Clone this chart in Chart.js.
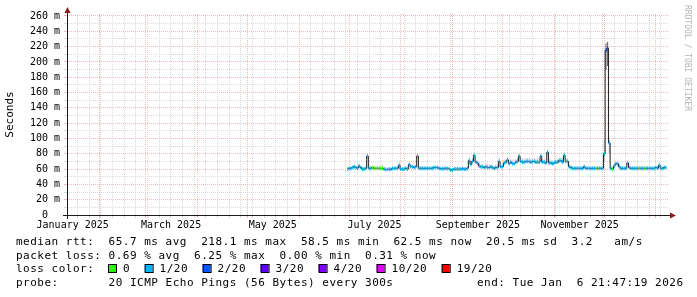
<!DOCTYPE html>
<html>
<head>
<meta charset="utf-8">
<title>SmokePing - last 360 days</title>
<script src="https://cdn.jsdelivr.net/npm/chart.js@4.4.1/dist/chart.umd.min.js"></script>
<style>
  html, body { margin: 0; padding: 0; background: #fff; }
  #wrap { width: 697px; height: 297px; }
</style>
</head>
<body>
<div id="wrap"><canvas id="graph" width="697" height="297"></canvas></div>
<script>
// day numbers count from 1 Jan 2025 (day 0); one value per day
var firstDay = 180;

// median rtt per day, ms
var rtt = [
  60, 61, 61, 62, 63, 62, 61, 64, 62, 60,
  60, 61, 77, 61, 61, 62, 61, 61, 61, 61,
  61, 61, 60, 59.5, 59.5, 60, 59.5, 61, 61, 61,
  61, 65, 60, 60, 60, 61, 60, 66, 63, 63,
  62, 63, 77, 61, 61, 61, 61, 61, 61, 61,
  61, 61, 62, 62, 62, 61, 60.5, 60.5, 60.5, 61,
  60.5, 60.5, 58.5, 59, 60, 60, 60, 60, 60, 60.5,
  60, 60, 61, 71, 66, 70, 78, 69, 68, 64,
  63, 63, 62, 63, 62, 62, 63, 62, 61, 62,
  62, 70, 63, 63, 68, 69, 72, 67, 69, 67,
  67, 69, 70, 77, 70, 69, 69, 70, 70, 70,
  69, 70, 70, 69, 69, 69, 77, 69, 69, 68,
  82, 68, 68, 67, 68, 69, 69, 71, 71, 69,
  78, 70, 70, 63, 62, 61, 61, 61, 61, 61,
  61, 61, 63, 61, 61, 61, 61, 61, 61, 61,
  61, 61, 61, 61, 80, 215, 218, 94, 61, 60,
  64, 67, 67, 63, 61, 61, 61, 61, 68, 62,
  61, 61, 61, 61, 61, 61, 61, 61, 61, 61,
  61, 61, 61, 61, 61, 62, 61, 65, 61, 61,
  62, 62
];

// smoke: slowest ping of the day, ms
var pingMax = [
  62, 63, 63, 64, 66, 65, 64, 67, 64, 62,
  62, 63, 80, 63, 63, 64, 63, 63, 63, 63,
  66, 66, 63, 62, 61, 62, 62, 63, 63, 63,
  63, 68, 62, 62, 62, 63, 62, 69, 66, 65,
  64, 65, 80, 63, 63, 63, 63, 63, 63, 63,
  63, 63, 64, 64, 64, 63, 62, 62, 63, 63,
  62, 62, 61, 61, 62, 62, 62, 62, 62, 63,
  62, 62, 64, 75, 70, 73, 81, 73, 71, 68,
  67, 66, 65, 68, 67, 66, 66, 65, 64, 65,
  66, 74, 67, 67, 72, 73, 76, 71, 73, 72,
  72, 73, 74, 80, 74, 74, 73, 74, 74, 74,
  73, 74, 74, 73, 74, 74, 80, 73, 73, 72,
  86, 73, 72, 71, 72, 73, 73, 75, 75, 74,
  82, 74, 73, 67, 65, 63, 63, 63, 63, 63,
  63, 63, 66, 63, 63, 63, 63, 63, 63, 63,
  63, 63, 63, 63, 98, 224, 226, 98, 64, 62,
  68, 72, 70, 67, 64, 63, 63, 63, 71, 66,
  63, 63, 63, 63, 64, 64, 64, 63, 63, 63,
  63, 63, 63, 63, 63, 64, 63, 68, 63, 63,
  64, 64
];

// smoke: fastest ping of the day, ms
var pingMin = [
  59, 60, 60, 61, 61, 61, 60, 62, 61, 59,
  59, 60, 74, 60, 60, 61, 60, 60, 60, 60,
  60, 60, 59, 58, 58, 59, 58, 60, 60, 60,
  60, 63, 59, 59, 59, 60, 59, 64, 62, 62,
  61, 62, 75, 60, 60, 60, 60, 60, 60, 60,
  60, 60, 61, 61, 61, 60, 59, 59, 59, 60,
  59, 59, 57, 58, 59, 59, 59, 59, 59, 59,
  59, 59, 60, 68, 64, 68, 76, 67, 66, 62,
  61, 61, 60, 61, 60, 60, 61, 60, 60, 60,
  60, 68, 61, 61, 66, 67, 70, 65, 67, 65,
  65, 67, 68, 75, 68, 67, 67, 68, 68, 67,
  67, 68, 68, 67, 67, 67, 75, 67, 67, 66,
  79, 66, 66, 65, 66, 67, 67, 69, 69, 67,
  75, 68, 68, 61, 60, 60, 60, 60, 60, 60,
  60, 60, 61, 60, 60, 60, 60, 60, 60, 60,
  60, 60, 60, 60, 70, 190, 195, 80, 60, 59,
  62, 65, 65, 61, 60, 60, 60, 60, 66, 60,
  60, 60, 60, 60, 60, 60, 60, 60, 60, 60,
  60, 60, 60, 60, 60, 61, 60, 63, 60, 60,
  60, 60
];

// lost pings out of 20, per day
var loss = [
  0, 1, 1, 1, 1, 1, 1, 1, 1, 1,
  1, 1, 1, 1, 1, 0, 0, 0, 0, 0,
  0, 0, 1, 1, 1, 1, 1, 1, 1, 1,
  1, 1, 1, 1, 1, 1, 1, 1, 1, 1,
  1, 1, 1, 1, 1, 1, 1, 1, 1, 1,
  1, 1, 1, 1, 1, 1, 1, 1, 1, 1,
  1, 1, 1, 1, 1, 1, 1, 1, 1, 1,
  1, 1, 1, 1, 1, 1, 1, 1, 1, 1,
  1, 1, 1, 1, 1, 1, 1, 1, 1, 1,
  1, 1, 1, 1, 1, 1, 1, 1, 1, 1,
  1, 1, 1, 1, 1, 1, 1, 1, 1, 1,
  1, 1, 1, 1, 1, 1, 1, 1, 1, 1,
  1, 1, 1, 1, 1, 1, 1, 1, 1, 1,
  1, 1, 1, 1, 1, 1, 1, 1, 1, 1,
  1, 1, 1, 1, 1, 1, 1, 1, 1, 0,
  1, 1, 1, 1, 1, 2, 2, 1, 1, 0,
  1, 1, 1, 1, 1, 1, 1, 1, 1, 1,
  1, 1, 1, 1, 1, 0, 1, 1, 0, 1,
  1, 1, 1, 1, 1, 1, 1, 1, 1, 1,
  1, 1
];

// loss colour legend
var lossLabels = ['0', '1/20', '2/20', '3/20', '4/20', '10/20', '19/20'];
var lossSteps = [0, 1, 2, 3, 4, 10, 19];
var lossColors = ['#26ff00', '#00b8ff', '#0059ff', '#5e00ff', '#7e00ff', '#dd00ff', '#ff0000'];

// x axis: month starts (grid) and labelled months
var monthStarts = [31, 59, 90, 120, 151, 181, 212, 243, 273, 304, 334, 365];
var labelMonths = [0, 59, 120, 181, 243, 304];
var monthLabels = ['January 2025', 'March 2025', 'May 2025', 'July 2025', 'September 2025', 'November 2025'];

// y axis ticks, ms
var yTicks = [0, 10, 20, 30, 40, 50, 60, 70, 80, 90, 100, 110, 120, 130, 140, 150,
              160, 170, 180, 190, 200, 210, 220, 230, 240, 250, 260];

var legendLines = [
  'median rtt:  65.7 ms avg  218.1 ms max  58.5 ms min  62.5 ms now  20.5 ms sd  3.2   am/s',
  'packet loss: 0.69 % avg  6.25 % max  0.00 % min  0.31 % now',
  'loss color:',
  'probe:       20 ICMP Echo Pings (56 Bytes) every 300s'
];
var endText = 'end: Tue Jan  6 21:47:19 2026';

var MAJOR = '#f2b9b9';
var MINOR = '#dadada';
var NONE = 'rgba(0,0,0,0)';
var BAND = 1.96;   // half height of the coloured median band (about 1.5 px)

var days = rtt.map(function (v, i) { return firstDay + i; });

var weekDays = [];
for (var d = 18; d <= 372; d += 7) {
    if (monthStarts.indexOf(d) < 0) weekDays.push(d);
}
var labelDays = labelMonths.map(function (m) { return m + 15.2; });

function colorForLoss(n) {
    var c = lossColors[0];
    lossSteps.forEach(function (s, k) { if (n >= s) c = lossColors[k]; });
    return c;
}

var smokeData = days.map(function (d, i) { return { x: d, y: [pingMin[i], pingMax[i]] }; });
var smokeColors = pingMax.map(function (hi, i) {
    var spread = hi - pingMin[i];
    if (spread > 25 && pingMin[i] > 150) return '#5a5a5a';
    if (spread > 15) return '#b0b0b0';
    return '#d4d4d4';
});
var medianData = days.map(function (d, i) { return { x: d, y: rtt[i] }; });
var bandData = days.map(function (d, i) { return { x: d, y: [rtt[i] - BAND, rtt[i] + BAND] }; });
var bandColors = loss.map(colorForLoss);

var decor = {
    id: 'smokepingDecor',
    afterDraw: function (chart) {
        var c = chart.ctx;
        var a = chart.chartArea;
        c.save();

        // axes
        c.strokeStyle = '#1a1a1a';
        c.lineWidth = 1;
        c.beginPath();
        c.moveTo(a.left - 4, a.bottom + 0.5);
        c.lineTo(a.right + 3, a.bottom + 0.5);
        c.moveTo(a.left + 0.5, a.bottom + 4);
        c.lineTo(a.left + 0.5, a.top - 2);
        c.stroke();

        // arrows
        c.fillStyle = '#8b1c1c';
        c.beginPath();
        c.moveTo(a.left + 0.5, a.top - 7);
        c.lineTo(a.left + 3.5, a.top - 1);
        c.lineTo(a.left - 2.5, a.top - 1);
        c.closePath();
        c.fill();
        c.beginPath();
        c.moveTo(a.right + 8, a.bottom + 0.5);
        c.lineTo(a.right + 2, a.bottom - 2.5);
        c.lineTo(a.right + 2, a.bottom + 3.5);
        c.closePath();
        c.fill();

        // legend
        c.fillStyle = '#000';
        c.font = "11px 'DejaVu Sans Mono'";
        c.letterSpacing = '0.5px';
        c.textAlign = 'left';
        c.textBaseline = 'alphabetic';
        var base = [245, 258.5, 272, 285.5];
        legendLines.forEach(function (line, k) {
            c.fillText(line, 16, base[k]);
        });
        c.fillText(endText, 477, base[3]);

        var x = 108;
        lossLabels.forEach(function (lab, k) {
            c.fillStyle = lossColors[k];
            c.fillRect(x, 264, 8, 8);
            c.strokeStyle = '#000';
            c.strokeRect(x + 0.5, 264.5, 8, 8);
            c.fillStyle = '#000';
            c.fillText(lab, x + 15, base[2]);
            x += 15 + c.measureText(lab).width + 14.5;
        });

        // watermark
        c.letterSpacing = '0px';
        c.fillStyle = '#b4b4b4';
        c.font = "8px 'DejaVu Sans Mono'";
        c.translate(685, 5);
        c.rotate(Math.PI / 2);
        c.fillText('RRDTOOL / TOBI OETIKER', 0, 0);

        c.restore();
    }
};

Chart.defaults.font.family = "'DejaVu Sans Mono', monospace";
Chart.defaults.color = '#000';

var ctx = document.getElementById('graph').getContext('2d');
var chart = new Chart(ctx, {
    type: 'bar',
    data: {
        datasets: [
            {
                type: 'bar',
                label: 'smoke',
                data: smokeData,
                backgroundColor: smokeColors,
                borderWidth: 0,
                barPercentage: 1,
                categoryPercentage: 1,
                grouped: false,
                order: 3
            },
            {
                type: 'line',
                label: 'median',
                data: medianData,
                stepped: 'middle',
                borderColor: '#1e1e1e',
                borderWidth: 1,
                pointRadius: 0,
                fill: false,
                order: 2
            },
            {
                type: 'bar',
                label: 'loss',
                data: bandData,
                backgroundColor: bandColors,
                borderWidth: 0,
                barPercentage: 1,
                categoryPercentage: 1,
                grouped: false,
                order: 1
            }
        ]
    },
    options: {
        responsive: false,
        animation: false,
        events: [],
        layout: { padding: { left: 0, right: 29, top: 14, bottom: 62 } },
        plugins: {
            legend: { display: false },
            tooltip: { enabled: false }
        },
        scales: {
            x: {
                type: 'linear',
                min: 11.8,
                max: 372.2,
                offset: false,
                afterBuildTicks: function (scale) {
                    var t = [];
                    weekDays.forEach(function (v) { t.push({ value: v }); });
                    monthStarts.forEach(function (v) { t.push({ value: v }); });
                    labelDays.forEach(function (v) { t.push({ value: v }); });
                    t.sort(function (p, q) { return p.value - q.value; });
                    scale.ticks = t;
                },
                afterFit: function (scale) { scale.height = 20; },
                grid: {
                    offset: false,
                    tickLength: 3,
                    color: function (c) {
                        var v = c.tick ? c.tick.value : null;
                        if (monthStarts.indexOf(v) >= 0) return MAJOR;
                        if (weekDays.indexOf(v) >= 0) return MINOR;
                        return NONE;
                    }
                },
                border: { display: false, dash: [1, 1] },
                ticks: {
                    autoSkip: false,
                    maxRotation: 0,
                    padding: 1,
                    font: { size: 10 },
                    callback: function (v) {
                        var k = labelDays.indexOf(v);
                        return k >= 0 ? monthLabels[k] : '';
                    }
                }
            },
            y: {
                type: 'linear',
                min: 0,
                max: 262.6,
                afterBuildTicks: function (scale) {
                    scale.ticks = yTicks.map(function (v) { return { value: v }; });
                },
                afterFit: function (scale) { scale.width = 67; },
                grid: {
                    tickLength: 3,
                    color: function (c) {
                        if (!c.tick) return MINOR;
                        return c.tick.value % 20 === 0 ? MAJOR : MINOR;
                    }
                },
                border: { display: false, dash: [1, 1] },
                ticks: {
                    autoSkip: false,
                    padding: 4,
                    font: { size: 10 },
                    callback: function (v) {
                        if (v % 20) return '';
                        return v === 0 ? '0  ' : v + ' m';
                    }
                },
                title: {
                    display: true,
                    text: 'Seconds',
                    font: { size: 11 },
                    padding: { top: 4, bottom: 0 }
                }
            }
        }
    },
    plugins: [decor]
});
</script>
</body>
</html>
